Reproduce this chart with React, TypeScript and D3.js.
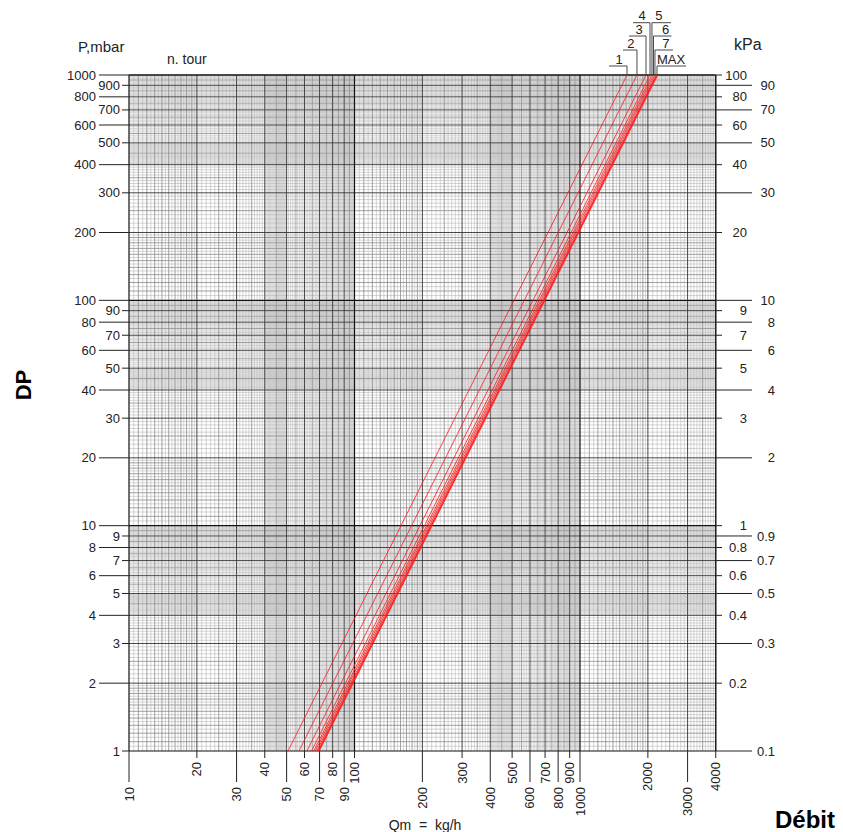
import React from "react";
import * as d3 from "d3";

// ---- data ----
const curveNames = ["1", "2", "3", "4", "5", "6", "7", "MAX"];
// flow (kg/h) read where each line meets DP = 1 mbar and DP = 1000 mbar
const qAt1mbar = [50.7, 56.7, 61.5, 64.5, 66.0, 67.0, 68.0, 69.3];
const qAt1000mbar = [1616, 1789, 1962, 2044, 2085, 2118, 2150, 2195];

const leftLongTicks = [1000, 800, 600, 400, 200, 100, 80, 60, 40, 20, 10, 8, 6, 4, 2];
const leftShortTicks = [900, 700, 500, 300, 90, 70, 50, 30, 9, 7, 5, 3, 1];
const rightLongTicks = [90, 70, 50, 30, 10, 8, 6, 4, 2, 0.9, 0.7, 0.5, 0.3, 0.1];
const rightShortTicks = [100, 80, 60, 40, 20, 9, 7, 5, 3, 1, 0.8, 0.6, 0.4, 0.2];
const bottomLongTicks = [10, 30, 50, 70, 90, 200, 400, 600, 800, 1000, 3000];
const bottomShortTicks = [20, 40, 60, 80, 100, 300, 500, 700, 900, 2000, 4000];

// label bracket layout: level (y), horizontal run, label offset
const bracketY = [66, 50, 36, 22.7, 22.7, 36, 50, 66];
const bracketLen = [-18, -14, -17, -17, 19, 18, 18, 29];
const labelDx = [-8, -6, -7, -8, 7, 12, 11, 14];

const W = 843, H = 832;
const FONT = "'Liberation Sans', Arial, sans-serif";

const x = d3.scaleLog().domain([10, 4000]).range([129, 129 + 225.5 * Math.log10(400)]);
const y = d3.scaleLog().domain([1, 1000]).range([751, 75]);

function gridValues(lo: number, hi: number) {
  const minor: number[] = [], medium: number[] = [], major: number[] = [], decade: number[] = [];
  for (let e = Math.floor(Math.log10(lo)); Math.pow(10, e) <= hi; e++) {
    const d = Math.pow(10, e);
    for (let n = 100; n < 1000; ) {
      const v = (n * d) / 100;
      if (v >= lo - 1e-9 && v <= hi + 1e-9) {
        if (n === 100) decade.push(v);
        else if (n % 100 === 0) major.push(v);
        else if ((n < 200 && n % 10 === 0) || (n >= 200 && n % 50 === 0)) medium.push(v);
        else minor.push(v);
      }
      // step: [1,2) 0.05, [2,4) 0.1, [4,5) 0.05, [5,10) 0.1 (units of decade)
      n += n < 200 ? 5 : n < 400 ? 10 : n < 500 ? 5 : 10;
    }
  }
  return { minor, medium, major, decade };
}

export default function App() {
  const [xl, xr] = x.range();
  const [yb, yt] = y.range();
  const gx = gridValues(10, 4000);
  const gy = gridValues(1, 1000);
  const styles: [keyof ReturnType<typeof gridValues>, string, number][] = [
    ["minor", "#b8b8b8", 0.6],
    ["medium", "#8a8a8a", 0.8],
    ["major", "#333", 0.9],
    ["decade", "#111", 1.2],
  ];
  return (
    <svg width={W} height={H} style={{ position: "absolute", left: 0, top: 0, background: "#fff" }} fontFamily={FONT}>
      {/* grid */}
      {styles.map(([k, c, w]) => (
        <g key={k} stroke={c} strokeWidth={w}>
          {gx[k].map((v) => (
            <line key={"x" + v} x1={x(v)} x2={x(v)} y1={yt} y2={yb} />
          ))}
          {gy[k].map((v) => (
            <line key={"y" + v} x1={xl} x2={xr} y1={y(v)} y2={y(v)} />
          ))}
        </g>
      ))}
      <line x1={xr} x2={xr} y1={yt} y2={yb} stroke="#111" strokeWidth={1.2} />
      <line x1={xl} x2={xr} y1={yt} y2={yt} stroke="#111" strokeWidth={1.2} />

      {/* left axis */}
      <g fontSize={13} fill="#222">
        {leftLongTicks.map((v) => (
          <g key={"ll" + v}>
            <line x1={99} x2={xl} y1={y(v)} y2={y(v)} stroke="#222" />
            <text x={96} y={y(v)} dy="0.35em" textAnchor="end">{v}</text>
          </g>
        ))}
        {leftShortTicks.map((v) => (
          <g key={"ls" + v}>
            <line x1={122} x2={xl} y1={y(v)} y2={y(v)} stroke="#222" />
            <text x={120} y={y(v)} dy="0.35em" textAnchor="end">{v}</text>
          </g>
        ))}
        {/* right axis (kPa) */}
        {rightLongTicks.map((v) => (
          <g key={"rl" + v}>
            <line x1={xr} x2={752} y1={y(v * 10)} y2={y(v * 10)} stroke="#222" />
            <text x={775} y={y(v * 10)} dy="0.35em" textAnchor="end">{v}</text>
          </g>
        ))}
        {rightShortTicks.map((v) => (
          <g key={"rs" + v}>
            <line x1={xr} x2={722} y1={y(v * 10)} y2={y(v * 10)} stroke="#222" />
            <text x={747} y={y(v * 10)} dy="0.35em" textAnchor="end">{v}</text>
          </g>
        ))}
        {/* bottom axis */}
        {bottomLongTicks.map((v) => (
          <g key={"bl" + v}>
            <line x1={x(v)} x2={x(v)} y1={yb} y2={782} stroke="#222" />
            <text transform={`translate(${x(v) + 4.5},787) rotate(-90)`} textAnchor="end">{v}</text>
          </g>
        ))}
        {bottomShortTicks.map((v) => (
          <g key={"bs" + v}>
            <line x1={x(v)} x2={x(v)} y1={yb} y2={758} stroke="#222" />
            <text transform={`translate(${x(v) + 4.5},762) rotate(-90)`} textAnchor="end">{v}</text>
          </g>
        ))}
      </g>

      {/* curves */}
      <g fill="none" stroke="#ff1a1a">
        {curveNames.map((n, i) => (
          <line
            key={n}
            x1={x(qAt1mbar[i])}
            y1={y(1)}
            x2={x(qAt1000mbar[i])}
            y2={y(1000)}
            strokeWidth={n === "MAX" ? 2.2 : 0.9}
            strokeOpacity={0.9}
          />
        ))}
      </g>

      {/* brackets */}
      <g stroke="#333" strokeWidth={0.9} fill="none">
        {curveNames.map((n, i) => {
          const xe = x(qAt1000mbar[i]);
          return <path key={n} d={`M${xe},${yt}V${bracketY[i]}h${bracketLen[i]}`} />;
        })}
      </g>
      <g fontSize={13} fill="#222" textAnchor="middle">
        {curveNames.map((n, i) => {
          const xe = x(qAt1000mbar[i]);
          return (
            <text key={n} x={xe + labelDx[i]} y={bracketY[i] - 2.5}>{n}</text>
          );
        })}
      </g>

      {/* titles */}
      <text x={78} y={52} fontSize={15} fill="#222">P,mbar</text>
      <text x={167} y={64} fontSize={14} fill="#222">n. tour</text>
      <text x={734} y={50} fontSize={16} fill="#222">kPa</text>
      <text x={425} y={830} fontSize={14} fill="#222" textAnchor="middle" xmlSpace="preserve">Qm  =  kg/h</text>
      <text x={775} y={828} fontSize={24} fontWeight="bold" fill="#000">Débit</text>
      <text transform="translate(31,385) rotate(-90)" fontSize={22} fontWeight="bold" fill="#000" textAnchor="middle">DP</text>
    </svg>
  );
}
